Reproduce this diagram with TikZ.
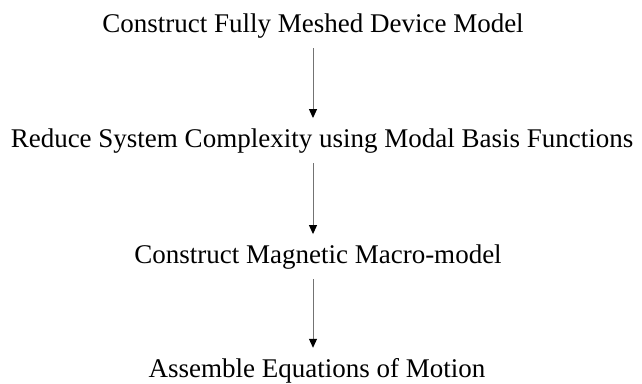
\documentclass[tikz,border=0pt]{standalone}
\usepackage{fontspec}
\setmainfont{Liberation Serif}
\usetikzlibrary{arrows.meta}

\begin{document}
\begin{tikzpicture}[x=1pt,y=-1pt,
  stage/.style={anchor=base,inner xsep=0pt,inner ysep=10pt,font=\fontsize{27}{32}\selectfont},
  flow/.style={black!55,line width=1pt,-{Triangle[length=9pt,width=8pt,black]}}]
\useasboundingbox (0,0) rectangle (642,383);
% the four stages, top to bottom
\node[stage] (mesh)   at (313,32)  {Construct Fully Meshed Device Model};
\node[stage] (reduce) at (322,147) {Reduce System Complexity using Modal Basis Functions};
\node[stage] (macro)  at (318,263) {Construct Magnetic Macro-model};
\node[stage] (motion) at (317,377) {Assemble Equations of Motion};
% arrows between them, all on one vertical
\draw[flow] (mesh.south) -- (mesh.south |- reduce.north);
\draw[flow] (mesh.south |- reduce.south) -- (mesh.south |- macro.north);
\draw[flow] (mesh.south |- macro.south) -- (mesh.south |- motion.north);
\end{tikzpicture}
\end{document}
